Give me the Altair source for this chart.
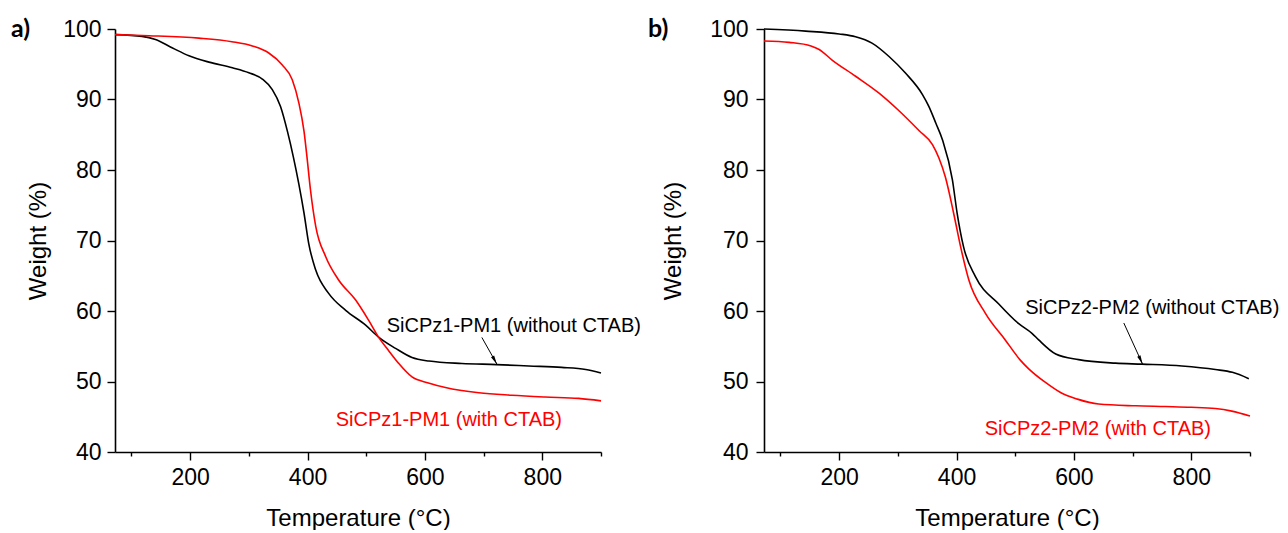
import altair as alt
import pandas as pd

# ---------------- data ----------------
# Panel a
a_black_T = [72, 118, 141, 170, 198, 232, 272, 300, 323, 340, 354, 366, 376, 385, 394, 402, 414, 436, 465, 499, 521, 550, 578, 607, 663, 722, 777, 833, 874, 900]
a_black_W = [99.2, 98.95, 98.5, 97.3, 96.2, 95.3, 94.5, 93.8, 92.9, 91.4, 89.0, 85.4, 81.8, 78.1, 73.9, 69.6, 65.8, 62.5, 60.1, 58.0, 56.3, 54.7, 53.4, 52.9, 52.56, 52.4, 52.2, 52.0, 51.7, 51.2]
a_red_T = [72, 130, 215, 271, 306, 334, 357, 374, 385, 394, 399, 405, 414, 431, 453, 482, 504, 521, 538, 555, 578, 606, 635, 692, 748, 805, 862, 900]
a_red_W = [99.2, 99.05, 98.7, 98.2, 97.6, 96.6, 94.9, 92.8, 89.6, 85.5, 81.9, 77.2, 72.0, 67.7, 64.4, 61.55, 58.7, 56.3, 54.4, 52.6, 50.65, 49.8, 49.15, 48.4, 48.05, 47.8, 47.6, 47.25]

# Panel b
b_black_T = [72, 143, 200, 228, 256, 285, 313, 342, 353, 365, 376, 393, 401, 412, 432, 472, 506, 529, 540, 569, 608, 671, 716, 784, 841, 870, 898]
b_black_W = [100, 99.7, 99.3, 98.9, 98.0, 96.1, 93.75, 90.7, 89.0, 86.6, 84.3, 78.6, 73.9, 69.1, 64.9, 61.0, 58.2, 56.8, 55.9, 53.9, 53.1, 52.6, 52.46, 52.2, 51.7, 51.3, 50.4]
b_red_T = [72, 115, 152, 166, 188, 228, 268, 302, 336, 359, 370, 381, 395, 407, 421, 449, 483, 509, 523, 551, 578, 606, 642, 705, 756, 800, 841, 869, 900]
b_red_W = [98.3, 98.1, 97.6, 97.1, 95.6, 93.3, 90.9, 88.4, 85.6, 83.6, 81.7, 79.0, 73.9, 69.1, 64.4, 59.7, 55.9, 53.0, 51.8, 49.9, 48.4, 47.5, 46.8, 46.55, 46.45, 46.35, 46.17, 45.8, 45.1]

series_names = ["without", "with"]
series_colors = ["black", "#ff0000"]

a_label_text = ["SiCPz1-PM1 (without CTAB)", "SiCPz1-PM1 (with CTAB)"]
a_label_T = [535, 448]
a_label_W = [57.9, 44.5]
b_label_text = ["SiCPz2-PM2 (without CTAB)", "SiCPz2-PM2 (with CTAB)"]
b_label_T = [517, 448]
b_label_W = [60.4, 43.2]

a_arrow = {"T": [697], "W": [56.25], "T2": [722.7], "W2": [52.46]}
b_arrow = {"T": [685], "W": [58.3], "T2": [717], "W2": [52.46]}

x_ticks = [100, 200, 300, 400, 500, 600, 700, 800, 900]
y_ticks = [40, 45, 50, 55, 60, 65, 70, 75, 80, 85, 90, 95, 100]

FONT = "Liberation Sans"
W, H = 486, 423


def panel(bT, bW, rT, rW, lab_text, lab_T, lab_W, arrow, arrow_angle, tag, ylab_pad, ytitle_pad):
    df = pd.concat([
        pd.DataFrame({"T": bT, "W": bW, "s": series_names[0]}),
        pd.DataFrame({"T": rT, "W": rW, "s": series_names[1]}),
    ])
    xs = alt.Scale(domain=[72, 900], nice=False, zero=False)
    ys = alt.Scale(domain=[40, 100], nice=False, zero=False)
    xax = alt.Axis(values=x_ticks, format="d", grid=False,
                   labelExpr="datum.value % 200 === 0 ? datum.label : ''",
                   tickSize={"condition": {"test": "datum.value % 200 === 0", "value": 8}, "value": 4},
                   labelPadding=6, titlePadding=17, title="Temperature (°C)")
    yax = alt.Axis(values=y_ticks, format="d", grid=False,
                   labelExpr="datum.value % 10 === 0 ? datum.label : ''",
                   tickSize={"condition": {"test": "datum.value % 10 === 0", "value": 8}, "value": 4},
                   labelPadding=ylab_pad, titlePadding=ytitle_pad, title="Weight (%)")
    lines = alt.Chart(df).mark_line(strokeWidth=1.6, interpolate="monotone").encode(
        x=alt.X("T:Q", scale=xs, axis=xax),
        y=alt.Y("W:Q", scale=ys, axis=yax),
        color=alt.Color("s:N", scale=alt.Scale(domain=series_names, range=series_colors), legend=None),
        detail="s:N",
    )
    ldf = pd.DataFrame({"T": lab_T, "W": lab_W, "text": lab_text, "s": series_names})
    labels = alt.Chart(ldf).mark_text(align="left", baseline="middle", font=FONT, fontSize=20).encode(
        x="T:Q", y="W:Q", text="text:N",
        color=alt.Color("s:N", scale=alt.Scale(domain=series_names, range=series_colors), legend=None),
    )
    adf = pd.DataFrame(arrow)
    rule = alt.Chart(adf).mark_rule(color="black", strokeWidth=1).encode(
        x="T:Q", y="W:Q", x2="T2:Q", y2="W2:Q")
    head = alt.Chart(adf).mark_point(
        shape="M0,0L0.4,2L-0.4,2Z", filled=True, color="black", opacity=1,
        size=80, angle=arrow_angle).encode(x="T2:Q", y="W2:Q")
    tagc = alt.Chart(pd.DataFrame({"t": [tag]})).mark_text(
        align="left", baseline="middle", font="Lato", fontWeight="bold", fontSize=25, color="black"
    ).encode(x=alt.value(-104 if tag == "a)" else -116), y=alt.value(0), text="t:N")
    return alt.layer(lines, labels, rule, head, tagc).properties(width=W, height=H)


pa = panel(a_black_T, a_black_W, a_red_T, a_red_W, a_label_text, a_label_T, a_label_W,
           a_arrow, 150.7, "a)", 6, 12)
pb = panel(b_black_T, b_black_W, b_red_T, b_red_W, b_label_text, b_label_T, b_label_W,
           b_arrow, 155.3, "b)", 8, 24)

chart = alt.HConcatChart(hconcat=[pa, pb], spacing=163, bounds="flush").configure(
    padding={"left": 3, "top": 9, "right": 0, "bottom": 0},
    background="white",
).configure_view(stroke=None).configure_axis(
    domainColor="black", domainWidth=1.6, tickColor="black", tickWidth=1.4,
    labelFont=FONT, labelFontSize=23, labelColor="black",
    titleFont=FONT, titleFontSize=24, titleFontWeight="normal", titleColor="black",
)

chart.save("out.html", embed_options={"renderer": "svg", "actions": False})
